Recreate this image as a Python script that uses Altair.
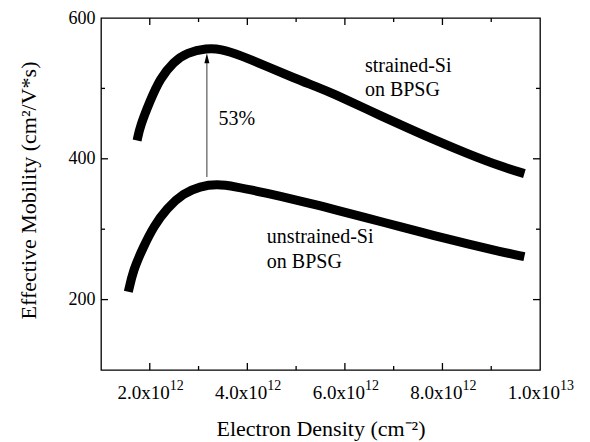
import altair as alt
import pandas as pd

# Effective mobility vs. electron density, strained and unstrained Si on BPSG
strained_n = [1.74e12, 1.80e12, 2.01e12, 2.21e12, 2.49e12, 2.76e12, 3.17e12, 3.45e12,
              3.86e12, 4.41e12, 4.95e12, 5.43e12, 5.78e12, 6.46e12, 7.15e12, 7.83e12,
              8.52e12, 9.20e12, 9.68e12]
strained_mu = [426, 446, 483, 514, 538, 551, 557, 556, 547, 531, 515, 502, 492, 470,
               448, 427, 407, 389, 379]

unstrained_n = [1.56e12, 1.66e12, 1.87e12, 2.08e12, 2.35e12, 2.69e12, 3.03e12, 3.38e12,
                3.72e12, 4.41e12, 5.09e12, 5.50e12, 5.78e12, 6.46e12, 7.15e12, 7.83e12,
                8.52e12, 9.20e12, 9.68e12]
unstrained_mu = [211, 242, 275, 304, 330, 351, 361, 364, 361, 351, 340, 333, 328, 316,
                 303, 291, 279, 268, 261]

# arrow marking the 53% enhancement at the mobility peak
arrow_n = 3.17e12
arrow_from = 374
arrow_to = 536
arrow_head = 543

# axis ticks and labels
x_major = [2e12, 4e12, 6e12, 8e12]
x_minor = [3e12, 5e12, 7e12, 9e12]
x_label_pos = [2e12, 4e12, 6e12, 8e12, 1e13]
x_label_base = ["2.0x10", "4.0x10", "6.0x10", "8.0x10", "1.0x10"]
x_label_exp = ["12", "12", "12", "12", "13"]
y_major = [200, 400]
y_minor = [300, 500]
y_labels = [200, 400, 600]

# text annotations
note_text = ["strained-Si", "on BPSG", "unstrained-Si", "on BPSG"]
note_n = [6.41e12, 6.41e12, 4.40e12, 4.40e12]
note_mu = [522.6, 488.5, 280, 244.5]
pct_text = ["53%"]
pct_n = [3.41e12]
pct_mu = [457]

W, H = 439, 352
FONT = "'Liberation Serif', 'Times New Roman', Times, serif"

curves = pd.concat([
    pd.DataFrame({"n": strained_n, "mu": strained_mu, "sample": "strained"}),
    pd.DataFrame({"n": unstrained_n, "mu": unstrained_mu, "sample": "unstrained"}),
])

xs = alt.Scale(domain=[1e12, 1e13], nice=False, zero=False)
ys = alt.Scale(domain=[100, 600], nice=False, zero=False)

x_enc = alt.X(
    "n:Q", scale=xs,
    axis=alt.Axis(labels=False, ticks=False, domain=False, grid=False,
                  title="Electron Density (cm\u207b\u00b2)", titleFont=FONT,
                  titleFontSize=22, titleFontWeight="normal", titleColor="black",
                  titleY=58, titleBaseline="middle"),
)
y_enc = alt.Y(
    "mu:Q", scale=ys,
    axis=alt.Axis(values=y_labels, ticks=False, domain=False, grid=False,
                  labelFont=FONT, labelFontSize=18, labelColor="black",
                  labelPadding=6, labelFlush=False, format="d",
                  title="Effective Mobility (cm\u00b2/V*s)", titleFont=FONT,
                  titleFontSize=22, titleFontWeight="normal", titleColor="black",
                  titleX=-73, titleY=H / 2 - 4, titleAngle=-90,
                  titleAlign="center", titleBaseline="middle"),
)

lines = alt.Chart(curves).mark_line(
    color="black", strokeWidth=9, strokeCap="butt", interpolate="basis"
).encode(x=x_enc, y=y_enc, detail="sample:N")

arrow_df = pd.DataFrame({"n": [arrow_n], "mu": [arrow_from], "mu2": [arrow_to]})
arrow_line = alt.Chart(arrow_df).mark_rule(color="#666666", strokeWidth=1.3).encode(
    x=x_enc, y=y_enc, y2="mu2:Q"
)
head_df = pd.DataFrame({"n": [arrow_n], "mu": [arrow_head]})
arrow_tip = alt.Chart(head_df).mark_point(
    shape="M0,-1L0.5,1L-0.5,1Z", size=100, filled=True, color="black", opacity=1
).encode(x=x_enc, y=y_enc)

notes_df = pd.DataFrame({"n": note_n, "mu": note_mu, "t": note_text})
notes = alt.Chart(notes_df).mark_text(
    align="left", baseline="alphabetic", font=FONT, fontSize=20, color="black"
).encode(x=x_enc, y=y_enc, text="t:N")

pct_df = pd.DataFrame({"n": pct_n, "mu": pct_mu, "t": pct_text})
pct = alt.Chart(pct_df).mark_text(
    align="left", baseline="middle", font=FONT, fontSize=20, color="black"
).encode(x=x_enc, y=y_enc, text="t:N")

xl_df = pd.DataFrame({"n": x_label_pos, "b": x_label_base, "e": x_label_exp})
x_base = alt.Chart(xl_df).mark_text(
    align="right", baseline="middle", dx=20, font=FONT, fontSize=19, color="black"
).encode(x=x_enc, y=alt.value(H + 23), text="b:N")
x_exp = alt.Chart(xl_df).mark_text(
    align="left", baseline="middle", dx=20, font=FONT, fontSize=14, color="black"
).encode(x=x_enc, y=alt.value(H + 16), text="e:N")


def xticks(vals, length):
    d = pd.DataFrame({"n": vals})
    bottom = alt.Chart(d).mark_rule(color="black", strokeWidth=1.3).encode(
        x=x_enc, y=alt.value(H), y2=alt.value(H - length))
    top = alt.Chart(d).mark_rule(color="black", strokeWidth=1.3).encode(
        x=x_enc, y=alt.value(0), y2=alt.value(length))
    return [bottom, top]


def yticks(vals, length):
    d = pd.DataFrame({"mu": vals})
    left = alt.Chart(d).mark_rule(color="black", strokeWidth=1.3).encode(
        y=y_enc, x=alt.value(0), x2=alt.value(length))
    right = alt.Chart(d).mark_rule(color="black", strokeWidth=1.3).encode(
        y=y_enc, x=alt.value(W), x2=alt.value(W - length))
    return [left, right]


layers = [lines, arrow_line, arrow_tip, pct, notes, x_base, x_exp]
layers += xticks(x_major, 7) + xticks(x_minor, 4)
layers += yticks(y_major, 7) + yticks(y_minor, 4)

chart = alt.layer(*layers).properties(
    width=W, height=H,
    autosize=alt.AutoSizeParams(type="none"),
    padding={"left": 101, "top": 18, "right": 50, "bottom": 72},
    background="white",
).configure_view(stroke="black", strokeWidth=1.3)

chart.save("out.html", embed_options={"renderer": "svg", "actions": False})
